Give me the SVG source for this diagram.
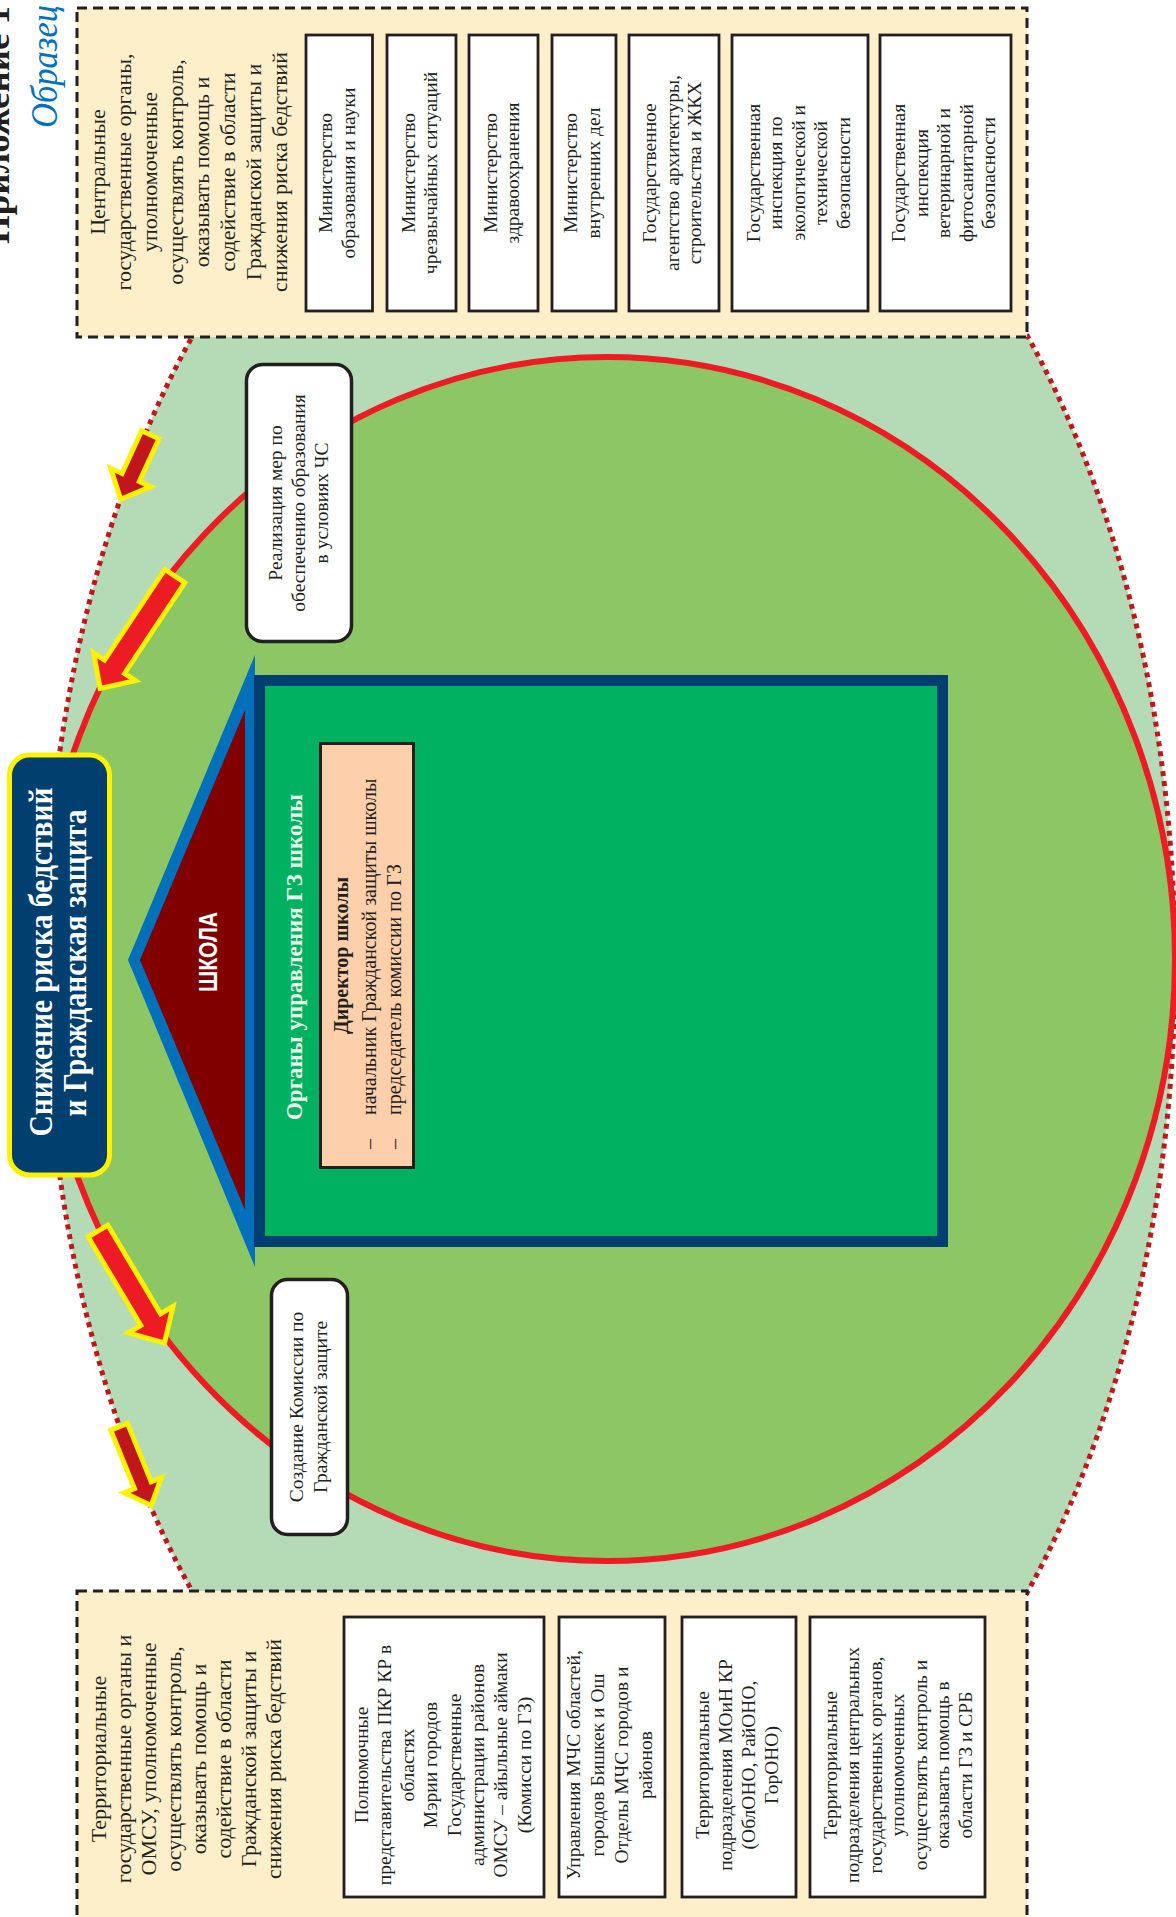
<svg xmlns="http://www.w3.org/2000/svg" width="1176" height="1917" viewBox="0 0 1176 1917">
<style>
.serif{font-family:"Liberation Serif","Times New Roman",serif;}
.sans{font-family:"Liberation Sans",Arial,sans-serif;}
.t22{font-size:22px;fill:#231f20;}
.t19{font-size:19.5px;fill:#231f20;}
.dashbox{fill:#fdefc9;stroke:#231f20;stroke-width:3;stroke-dasharray:10 6;}
.org{fill:#ffffff;stroke:#231f20;stroke-width:2.8;}
.wbox{fill:#ffffff;stroke:#231f20;stroke-width:3.5;}
.arr-bright{fill:#ed1c24;stroke:#fff200;stroke-width:5;stroke-linejoin:miter;}
.arr-dark{fill:#c1161c;stroke:#fff200;stroke-width:5;stroke-linejoin:miter;}
.mid{text-anchor:middle;}
</style>
<rect x="0" y="0" width="1176" height="1917" fill="#ffffff"/>

<g id="outer-zone">
<ellipse cx="610" cy="964" rx="565" ry="932" fill="#b5dbb6" stroke="#c1161c" stroke-width="5" stroke-dasharray="5 5"/>
</g>
<g id="inner-zone">
<ellipse cx="607" cy="959" rx="568" ry="602" fill="#8cc665" stroke="#ed1c24" stroke-width="6"/>
</g>

<g id="header">
<g transform="rotate(-90)">
<text x="-244" y="9" class="serif" font-size="36" font-weight="bold" fill="#231f20" textLength="238" lengthAdjust="spacingAndGlyphs">Приложение 1</text>
<text x="-128" y="57" class="serif" font-size="37" font-style="italic" fill="#0070c0" textLength="123" lengthAdjust="spacingAndGlyphs">Образец</text>
</g>
</g>

<g id="central-bodies">
<rect class="dashbox" x="77" y="8" width="950" height="329"/>
<g transform="rotate(-90)" class="serif t22 mid">
<text><tspan x="-172" y="105">Центральные</tspan><tspan x="-172" y="131">государственные органы,</tspan><tspan x="-172" y="157">уполномоченные</tspan><tspan x="-172" y="183">осуществлять контроль,</tspan><tspan x="-172" y="209">оказывать помощь и</tspan><tspan x="-172" y="235">содействие в области</tspan><tspan x="-172" y="261">Гражданской защиты и</tspan><tspan x="-172" y="287">снижения риска бедствий</tspan></text>
</g>
</g>

<g id="ministry-education">
<rect class="org" x="306" y="35" width="66.5" height="276"/>
<g transform="rotate(-90)" class="serif t19 mid"><text><tspan x="-173" y="332.3">Министерство</tspan><tspan x="-173" y="354.8">образования и науки</tspan></text></g>
</g>
<g id="ministry-emergency">
<rect class="org" x="387" y="35" width="69" height="276"/>
<g transform="rotate(-90)" class="serif t19 mid"><text><tspan x="-173" y="414.8">Министерство</tspan><tspan x="-173" y="437.3">чрезвычайных ситуаций</tspan></text></g>
</g>
<g id="ministry-health">
<rect class="org" x="469" y="35" width="69" height="276"/>
<g transform="rotate(-90)" class="serif t19 mid"><text><tspan x="-173" y="496.8">Министерство</tspan><tspan x="-173" y="519.3">здравоохранения</tspan></text></g>
</g>
<g id="ministry-interior">
<rect class="org" x="552" y="35" width="64" height="276"/>
<g transform="rotate(-90)" class="serif t19 mid"><text><tspan x="-173" y="577.3">Министерство</tspan><tspan x="-173" y="599.8">внутренних дел</tspan></text></g>
</g>
<g id="agency-architecture">
<rect class="org" x="629" y="35" width="90" height="276"/>
<g transform="rotate(-90)" class="serif t19 mid"><text><tspan x="-173" y="656">Государственное</tspan><tspan x="-173" y="678.5">агентство архитектуры,</tspan><tspan x="-173" y="701">строительства и ЖКХ</tspan></text></g>
</g>
<g id="inspection-ecology">
<rect class="org" x="732" y="35" width="136" height="276"/>
<g transform="rotate(-90)" class="serif t19 mid"><text><tspan x="-173" y="759.5">Государственная</tspan><tspan x="-173" y="782">инспекция по</tspan><tspan x="-173" y="804.5">экологической и</tspan><tspan x="-173" y="827">технической</tspan><tspan x="-173" y="849.5">безопасности</tspan></text></g>
</g>
<g id="inspection-veterinary">
<rect class="org" x="880" y="35" width="131" height="276"/>
<g transform="rotate(-90)" class="serif t19 mid"><text><tspan x="-173" y="905">Государственная</tspan><tspan x="-173" y="927.5">инспекция</tspan><tspan x="-173" y="950">ветеринарной и</tspan><tspan x="-173" y="972.5">фитосанитарной</tspan><tspan x="-173" y="995">безопасности</tspan></text></g>
</g>

<g id="territorial-bodies">
<rect class="dashbox" x="77" y="1591" width="950" height="340"/>
<g transform="rotate(-90)" class="serif t22 mid">
<text><tspan x="-1759" y="105.5">Территориальные</tspan><tspan x="-1759" y="130.5">государственные органы и</tspan><tspan x="-1759" y="155.5">ОМСУ, уполномоченные</tspan><tspan x="-1759" y="180.5">осуществлять контроль,</tspan><tspan x="-1759" y="205.5">оказывать помощь и</tspan><tspan x="-1759" y="230.5">содействие в области</tspan><tspan x="-1759" y="255.5">Гражданской защиты и</tspan><tspan x="-1759" y="280.5">снижения риска бедствий</tspan></text>
</g>
</g>

<g id="regional-representatives">
<rect class="org" x="344" y="1617" width="200" height="280"/>
<g transform="rotate(-90)" class="serif t19 mid"><text><tspan x="-1765" y="367.5">Полномочные</tspan><tspan x="-1765" y="390.8">представительства ПКР КР в</tspan><tspan x="-1765" y="414.1">областях</tspan><tspan x="-1765" y="437.4">Мэрии городов</tspan><tspan x="-1765" y="460.7">Государственные</tspan><tspan x="-1765" y="484">администрации районов</tspan><tspan x="-1765" y="507.3">ОМСУ – айыльные аймаки</tspan><tspan x="-1765" y="530.6">(Комисси по ГЗ)</tspan></text></g>
</g>
<g id="emergency-departments">
<rect class="org" x="559" y="1617" width="106" height="280"/>
<g transform="rotate(-90)" class="serif t19 mid"><text><tspan x="-1765" y="579.5">Управления МЧС областей,</tspan><tspan x="-1765" y="603.5">городов Бишкек и Ош</tspan><tspan x="-1765" y="627.5">Отделы МЧС городов и</tspan><tspan x="-1765" y="651.5">районов</tspan></text></g>
</g>
<g id="education-departments">
<rect class="org" x="682" y="1617" width="114" height="280"/>
<g transform="rotate(-90)" class="serif t19 mid"><text><tspan x="-1765" y="709">Территориальные</tspan><tspan x="-1765" y="732">подразделения МОиН КР</tspan><tspan x="-1765" y="755">(ОблОНО, РайОНО,</tspan><tspan x="-1765" y="778">ГорОНО)</tspan></text></g>
</g>
<g id="territorial-subdivisions">
<rect class="org" x="810" y="1617" width="175" height="280"/>
<g transform="rotate(-90)" class="serif t19 mid"><text><tspan x="-1765" y="836.5">Территориальные</tspan><tspan x="-1765" y="859">подразделения центральных</tspan><tspan x="-1765" y="881.5">государственных органов,</tspan><tspan x="-1765" y="904">уполномоченных</tspan><tspan x="-1765" y="926.5">осуществлять контроль и</tspan><tspan x="-1765" y="949">оказывать помощь в</tspan><tspan x="-1765" y="971.5">области ГЗ и СРБ</tspan></text></g>
</g>

<g id="connectors">
<polygon class="arr-dark" transform="translate(151.5,432) rotate(114.6)" points="3,-9.5 50,-9.5 50,-22 74,0 50,22 50,9.5 3,9.5"/>
<polygon class="arr-bright" transform="translate(176.5,573.5) rotate(123.6)" points="3,-12 112,-12 112,-25 138,0 112,25 112,12 3,12"/>
<polygon class="arr-bright" transform="translate(96.5,1228.5) rotate(59.25)" points="3,-11.5 106,-11.5 106,-26 133,0 106,26 106,11.5 3,11.5"/>
<polygon class="arr-dark" transform="translate(118,1424) rotate(67.9)" points="3,-9 66,-9 66,-20 88,0 66,20 66,9 3,9"/>
</g>

<g id="measures-education">
<rect class="wbox" x="246.5" y="364.5" width="105" height="277" rx="16"/>
<g transform="rotate(-90)" class="serif t19 mid"><text><tspan x="-503" y="282">Реализация мер по</tspan><tspan x="-503" y="305">обеспечению образования</tspan><tspan x="-503" y="328">в условиях ЧС</tspan></text></g>
</g>
<g id="commission">
<rect class="wbox" x="271.5" y="1279.5" width="76" height="255" rx="16"/>
<g transform="rotate(-90)" class="serif t19 mid"><text><tspan x="-1407" y="302.5">Создание Комиссии по</tspan><tspan x="-1407" y="326.5">Гражданской защите</tspan></text></g>
</g>

<g id="title">
<rect x="9.5" y="755" width="100" height="420" rx="20" fill="#003f6e" stroke="#fff200" stroke-width="5"/>
<g transform="rotate(-90)" class="serif mid" font-weight="bold" font-size="33" fill="#ffffff">
<text x="-962" y="52" textLength="349" lengthAdjust="spacingAndGlyphs">Снижение риска бедствий</text>
<text x="-963" y="86" textLength="307" lengthAdjust="spacingAndGlyphs">и Гражданская защита</text>
</g>
</g>

<g id="school">
<polygon points="255,655 128,960 255,1267" fill="#0070ba"/>
<polygon points="245,710 140,960 245,1210" fill="#800000"/>
<g transform="rotate(-90)"><text x="-952" y="217" class="sans mid" font-weight="bold" font-size="25" fill="#ffffff" textLength="80" lengthAdjust="spacingAndGlyphs">ШКОЛА</text></g>
</g>

<g id="school-management">
<rect x="259.5" y="680.5" width="683" height="561" fill="#00b161" stroke="#003f6f" stroke-width="11"/>
<g transform="rotate(-90)"><text x="-957" y="302" class="serif mid" font-weight="bold" font-size="23" fill="#e8f8ea">Органы управления ГЗ школы</text></g>
</g>

<g id="director">
<rect x="320.5" y="743.5" width="93" height="424" fill="#fdd0ab" stroke="#231f20" stroke-width="3"/>
<g transform="rotate(-90)" class="serif" fill="#231f20">
<text x="-955.5" y="348" class="mid" font-weight="bold" font-size="20">Директор школы</text>
<text x="-1144" y="376" class="mid" font-size="20">–</text>
<text x="-1115" y="376" font-size="20">начальник Гражданской защиты школы</text>
<text x="-1144" y="401" class="mid" font-size="20">–</text>
<text x="-1115" y="401" font-size="20">председатель комиссии по ГЗ</text>
</g>
</g>
</svg>
